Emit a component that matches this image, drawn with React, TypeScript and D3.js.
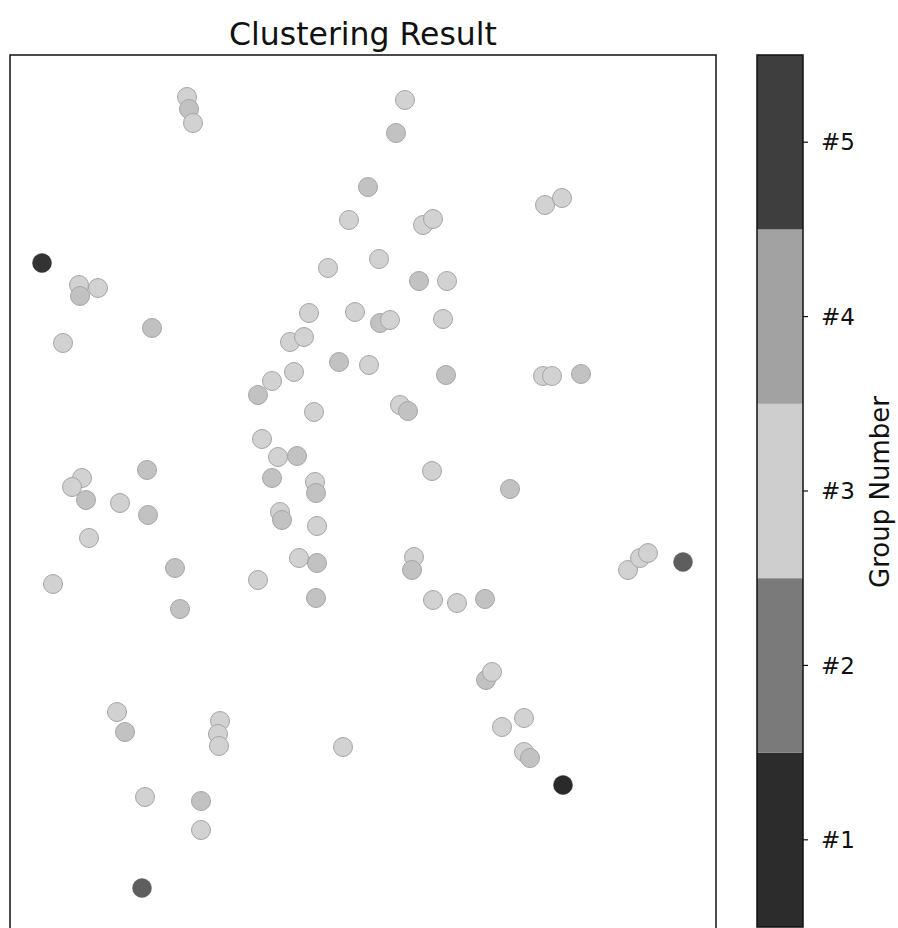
import React from "react";
import * as d3 from "d3";

// point positions in data units (x: 0..706, y: 0..874, y upward), group id 1..5
const pointX = [177,179,183,395,386,358,339,413,423,535,552,32,318,369,69,70,88,409,437,142,53,299,345,370,380,433,280,294,284,329,359,436,533,542,571,248,262,304,390,398,252,268,287,262,305,306,137,72,62,76,110,138,270,272,307,79,289,307,165,43,248,306,170,422,500,404,402,618,630,638,673,423,447,475,476,482,492,514,514,520,553,107,115,210,208,209,333,135,191,191,132];
const pointY = [832,820,806,829,796,742,709,704,710,724,731,666,661,670,644,633,641,648,648,601,586,616,617,606,609,610,587,592,557,567,564,554,553,553,555,534,548,517,524,518,490,472,473,451,447,436,459,451,442,429,426,414,417,409,403,391,371,366,361,345,349,331,320,458,440,372,359,359,371,376,367,329,326,330,249,257,202,211,177,171,144,217,197,208,195,183,182,132,128,99,41];
const pointGroup = [3,4,3,3,4,4,3,3,3,3,3,5,3,3,3,4,3,4,3,4,3,3,3,4,3,3,3,3,3,4,3,4,3,3,4,4,3,3,3,4,3,3,4,4,3,4,4,3,3,4,3,4,3,4,3,3,3,4,4,3,3,4,4,3,4,3,4,3,3,3,2,3,3,4,4,3,3,3,3,4,1,3,4,3,3,3,3,3,4,3,2];

const groups = [1, 2, 3, 4, 5];
const groupLabels = ["#1", "#2", "#3", "#4", "#5"];
const groupColors = ["#2c2c2c", "#7a7a7a", "#cecece", "#a2a2a2", "#3e3e3e"];
const pointColors = ["#2a2a2a", "#5e5e5e", "#d2d2d2", "#c2c2c2", "#333333"];

const title = "Clustering Result";
const cbarLabel = "Group Number";

export default function App() {
  const W = 898, H = 928;
  const left = 10, right = 716, top = 55, bottom = 929;
  const x = d3.scaleLinear().domain([0, 706]).range([left, right]);
  const y = d3.scaleLinear().domain([0, 874]).range([bottom, top]);
  const cbL = 757, cbR = 803;
  const cb = d3.scaleLinear().domain([0.5, 5.5]).range([bottom - 2, top]);
  const font = "'DejaVu Sans', sans-serif";

  return (
    <svg width={W} height={H} style={{ position: "absolute", left: 0, top: 0, background: "#fff" }}>
      <rect x={0} y={0} width={W} height={H} fill="#fff" />
      <text x={(left + right) / 2} y={45} textAnchor="middle" fontFamily={font} fontSize={31.5} fill="#111">
        {title}
      </text>
      {pointX.map((px, i) => {
        const g = pointGroup[i];
        const c = pointColors[g - 1];
        const dark = g === 1 || g === 2 || g === 5;
        return (
          <circle
            key={i}
            cx={x(px)}
            cy={y(pointY[i])}
            r={9.5}
            fill={c}
            stroke={dark ? c : "#a5a5a5"}
            strokeWidth={dark ? 0.5 : 1}
          />
        );
      })}
      <rect x={left} y={top} width={right - left} height={bottom - top} fill="none" stroke="#111" strokeWidth={1.5} />
      {groups.map((g, i) => (
        <rect
          key={g}
          x={cbL}
          y={cb(g + 0.5)}
          width={cbR - cbL}
          height={cb(g - 0.5) - cb(g + 0.5)}
          fill={groupColors[i]}
        />
      ))}
      <rect x={cbL} y={top} width={cbR - cbL} height={cb(0.5) - top} fill="none" stroke="#111" strokeWidth={1.5} />
      {groups.map((g, i) => (
        <g key={g}>
          <line x1={cbR} x2={cbR + 5} y1={cb(g)} y2={cb(g)} stroke="#111" strokeWidth={1.2} />
          <text x={cbR + 18} y={cb(g)} dy="0.36em" fontFamily={font} fontSize={23} fill="#111">
            {groupLabels[i]}
          </text>
        </g>
      ))}
      <text
        transform={`translate(889,${(top + bottom) / 2}) rotate(-90)`}
        textAnchor="middle"
        fontFamily={font}
        fontSize={26}
        fill="#111"
      >
        {cbarLabel}
      </text>
    </svg>
  );
}
